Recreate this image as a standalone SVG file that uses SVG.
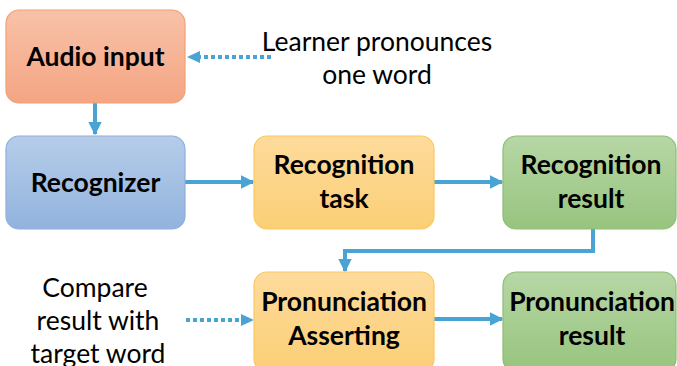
<svg xmlns="http://www.w3.org/2000/svg" width="677" height="366" viewBox="0 0 677 366">
  <style>
    .box { stroke-width: 1.2; }
    .lbl { font-family: Lato, "Open Sans", "Liberation Sans", sans-serif; font-weight: bold; font-size: 26.5px; fill: #000; text-anchor: middle; }
    .note { font-family: Lato, "Open Sans", "Liberation Sans", sans-serif; font-size: 26.5px; fill: #000; text-anchor: middle; }
    .link { stroke: #4aa3d5; stroke-width: 4; fill: none; }
    .dot { stroke: #4aa3d5; stroke-width: 4; fill: none; stroke-dasharray: 4 3; }
  </style>
  <defs>
    <linearGradient id="gOrange" x1="0" y1="0" x2="0" y2="1">
      <stop offset="0" stop-color="#f8c2a8"/>
      <stop offset="1" stop-color="#f4a583"/>
    </linearGradient>
    <linearGradient id="gBlue" x1="0" y1="0" x2="0" y2="1">
      <stop offset="0" stop-color="#b6cde9"/>
      <stop offset="1" stop-color="#92b3de"/>
    </linearGradient>
    <linearGradient id="gYellow" x1="0" y1="0" x2="0" y2="1">
      <stop offset="0" stop-color="#fedb9c"/>
      <stop offset="1" stop-color="#fbcf76"/>
    </linearGradient>
    <linearGradient id="gGreen" x1="0" y1="0" x2="0" y2="1">
      <stop offset="0" stop-color="#b7d7a6"/>
      <stop offset="1" stop-color="#97c47e"/>
    </linearGradient>
    <marker id="arrow" viewBox="0 0 10 10" refX="9" refY="5" markerWidth="3.4" markerHeight="3.4" orient="auto" markerUnits="strokeWidth">
      <path d="M0,0 L10,5 L0,10 Z" fill="#4aa3d5"/>
    </marker>
  </defs>

  <g id="connectors">
    <path class="link" d="M95,103 V134" marker-end="url(#arrow)"/>
    <path class="link" d="M185,182 H253" marker-end="url(#arrow)"/>
    <path class="link" d="M434,182 H502" marker-end="url(#arrow)"/>
    <path class="link" d="M593,229 V251 H345 V271" marker-end="url(#arrow)"/>
    <path class="link" d="M434,319 H502" marker-end="url(#arrow)"/>
    <path class="dot" d="M271,57 H198"/>
    <path d="M187,57 L200,51 L200,63 Z" fill="#4aa3d5"/>
    <path class="dot" d="M186,320 H243"/>
    <path d="M254,320 L241,314 L241,326 Z" fill="#4aa3d5"/>
  </g>

  <g id="audio-input">
    <rect class="box" x="6" y="10" width="179" height="93" rx="13" fill="url(#gOrange)" stroke="#f2a074"/>
    <text class="lbl" x="95.5" y="66">Audio input</text>
  </g>

  <g id="learner-note">
    <text class="note" x="377" y="51">Learner pronounces</text>
    <text class="note" x="377" y="84">one word</text>
  </g>

  <g id="recognizer">
    <rect class="box" x="6" y="136" width="179" height="93" rx="13" fill="url(#gBlue)" stroke="#8eafdb"/>
    <text class="lbl" x="95.5" y="192">Recognizer</text>
  </g>

  <g id="recognition-task">
    <rect class="box" x="254" y="136" width="180" height="93" rx="13" fill="url(#gYellow)" stroke="#f9c95e"/>
    <text class="lbl" x="344" y="174">Recognition</text>
    <text class="lbl" x="344" y="208">task</text>
  </g>

  <g id="recognition-result">
    <rect class="box" x="503" y="136" width="173" height="93" rx="13" fill="url(#gGreen)" stroke="#8dbd75"/>
    <text class="lbl" x="591" y="174">Recognition</text>
    <text class="lbl" x="591" y="208">result</text>
  </g>

  <g id="compare-note">
    <text class="note" x="95" y="297">Compare</text>
    <text class="note" x="98" y="330">result with</text>
    <text class="note" x="98" y="363">target word</text>
  </g>

  <g id="pronunciation-asserting">
    <rect class="box" x="254" y="272" width="180" height="100" rx="13" fill="url(#gYellow)" stroke="#f9c95e"/>
    <text class="lbl" x="344" y="311">Pronunciation</text>
    <text class="lbl" x="344" y="345">Asserting</text>
  </g>

  <g id="pronunciation-result">
    <rect class="box" x="503" y="272" width="173" height="100" rx="13" fill="url(#gGreen)" stroke="#8dbd75"/>
    <text class="lbl" x="592" y="311">Pronunciation</text>
    <text class="lbl" x="592" y="345">result</text>
  </g>
</svg>
